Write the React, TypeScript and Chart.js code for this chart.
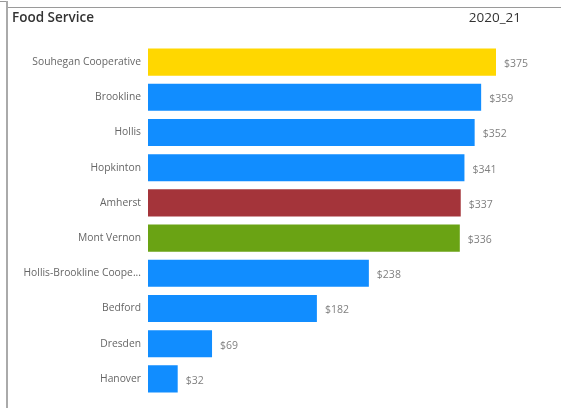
import React, { useEffect, useRef } from "react";
import { Chart, registerables } from "chart.js";

Chart.register(...registerables);

const categories = [
  "Souhegan Cooperative",
  "Brookline",
  "Hollis",
  "Hopkinton",
  "Amherst",
  "Mont Vernon",
  "Hollis-Brookline Cooperative",
  "Bedford",
  "Dresden",
  "Hanover",
];
const values = [375, 359, 352, 341, 337, 336, 238, 182, 69, 32];
const barColors = [
  "#FFD700",
  "#118DFF",
  "#118DFF",
  "#118DFF",
  "#A4343A",
  "#6AA314",
  "#118DFF",
  "#118DFF",
  "#118DFF",
  "#118DFF",
];
const titleText = "Food Service";
const periodText = "2020_21";

const FONT = "'Open Sans', 'DejaVu Sans', sans-serif";

const valueLabels = {
  id: "valueLabels",
  afterDatasetsDraw(chart: any) {
    const ctx = chart.ctx;
    const meta = chart.getDatasetMeta(0);
    ctx.save();
    ctx.font = `10.5px ${FONT}`;
    ctx.fillStyle = "#808080";
    ctx.textAlign = "left";
    ctx.textBaseline = "middle";
    meta.data.forEach((bar: any, i: number) => {
      ctx.fillText("$" + values[i], bar.x + 8, bar.y + 2);
    });
    ctx.restore();
  },
};

export default function App() {
  const ref = useRef<HTMLCanvasElement>(null);
  useEffect(() => {
    if (!ref.current) return;
    const chart = new Chart(ref.current, {
      type: "bar",
      data: {
        labels: categories,
        datasets: [
          {
            data: values,
            backgroundColor: barColors,
            borderWidth: 0,
            barPercentage: 0.77,
            categoryPercentage: 1,
          },
        ],
      },
      options: {
        indexAxis: "y",
        animation: false,
        responsive: false,
        maintainAspectRatio: false,
        layout: { padding: { top: 44.5, bottom: 11.5, right: 65, left: 0 } },
        plugins: {
          legend: { display: false },
          tooltip: { enabled: false },
          title: { display: false },
        },
        scales: {
          x: {
            display: false,
            min: 0,
            max: 375,
          },
          y: {
            grid: { display: false },
            border: { display: false },
            ticks: {
              padding: -1,
              color: "#666666",
              font: { family: FONT, size: 10.3 },
              callback: function (this: any, v: any) {
                const s = categories[v as number];
                return s.length > 22 ? s.slice(0, 22) + "..." : s;
              },
            },
            afterFit(scale: any) {
              scale.width = 148;
            },
          },
        },
      },
      plugins: [valueLabels],
    });
    return () => chart.destroy();
  }, []);

  return (
    <div
      style={{
        position: "absolute",
        left: 0,
        top: 0,
        width: 561,
        height: 408,
        background: "#fff",
        overflow: "hidden",
      }}
    >
      <div style={{ position: "absolute", left: 0, top: 1, width: 8, height: 1, background: "#999" }} />
      <div style={{ position: "absolute", left: 7, top: 7, width: 554, height: 1, background: "#9a9a9a" }} />
      <div style={{ position: "absolute", left: 6, top: 1, width: 2, height: 407, background: "#aaaaaa" }} />
      <canvas ref={ref} width={561} height={408} style={{ position: "absolute", left: 0, top: 0 }} />
      <div
        style={{
          position: "absolute",
          left: 12,
          top: 8,
          font: `600 13.5px ${FONT}`,
          color: "#333",
          lineHeight: "18px",
        }}
      >
        {titleText}
      </div>
      <div
        style={{
          position: "absolute",
          right: 40,
          top: 8,
          font: `400 13.5px ${FONT}`,
          color: "#333",
          lineHeight: "18px",
        }}
      >
        {periodText}
      </div>
    </div>
  );
}
